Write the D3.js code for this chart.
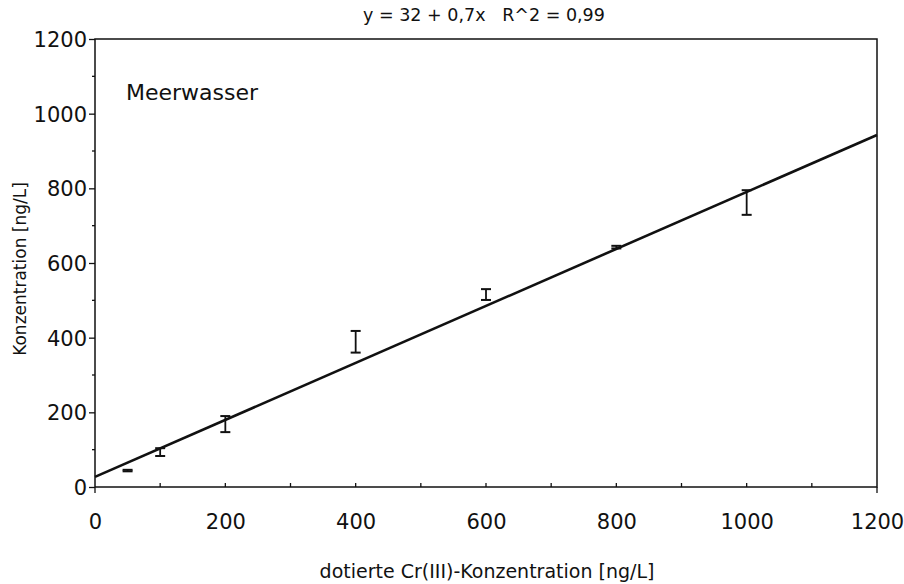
<!DOCTYPE html>
<html><head><meta charset="utf-8">
<script src="https://cdn.jsdelivr.net/npm/d3@7"></script>
<style>body{margin:0;background:#fff}svg{display:block}text{font-family:"DejaVu Sans",sans-serif;fill:#111}</style>
</head><body><svg id="c" width="904" height="584"></svg>
<script>
const doses = [50, 100, 200, 400, 600, 800, 1000];
const lowValues = [42, 83, 147, 360, 501, 639, 729];
const highValues = [46, 104, 190, 418, 530, 646, 795];
const fitLine = [[0, 27], [1200, 943]];
const xTicks = [0, 200, 400, 600, 800, 1000, 1200];
const yTicks = [0, 200, 400, 600, 800, 1000, 1200];
const minorTicks = [100, 300, 500, 700, 900, 1100];

const svg = d3.select("#c");
const m = {l: 95, r: 877, t: 39, b: 487};
const x = d3.scaleLinear().domain([0, 1200]).range([m.l, m.r]);
const y = d3.scaleLinear().domain([0, 1200]).range([m.b, m.t]);
const stroke = "#111";

// frame
svg.append("rect").attr("x", m.l).attr("y", m.t).attr("width", m.r - m.l).attr("height", m.b - m.t)
  .attr("fill", "none").attr("stroke", stroke).attr("stroke-width", 1.5);

// y axis
const ya = svg.append("g").attr("transform", `translate(${m.l},0)`)
  .call(d3.axisLeft(y).tickValues(yTicks).tickSize(6).tickPadding(2).tickFormat(d3.format("d")));
ya.select(".domain").remove();
ya.selectAll("line").attr("stroke", stroke).attr("stroke-width", 1.3);
ya.selectAll("text").attr("font-size", 21).attr("fill", "#111").attr("dy", "0.35em");
svg.append("g").selectAll("line").data(minorTicks).join("line")
  .attr("x1", m.l - 3).attr("x2", m.l).attr("y1", d => y(d)).attr("y2", d => y(d))
  .attr("stroke", stroke).attr("stroke-width", 1.3);

// x axis
const xa = svg.append("g").attr("transform", `translate(0,${m.b})`)
  .call(d3.axisBottom(x).tickValues(xTicks).tickSize(0).tickPadding(27).tickFormat(d3.format("d")));
xa.select(".domain").remove();
xa.selectAll("text").attr("font-size", 21).attr("fill", "#111");
svg.append("g").selectAll("line").data(minorTicks.concat(xTicks.slice(1, -1))).join("line")
  .attr("x1", d => x(d)).attr("x2", d => x(d)).attr("y1", m.b).attr("y2", m.b - 4)
  .attr("stroke", stroke).attr("stroke-width", 1.3);
svg.append("line").attr("x1", m.l).attr("x2", m.l).attr("y1", m.b).attr("y2", m.b + 6).attr("stroke", stroke).attr("stroke-width", 1.3);
svg.append("line").attr("x1", m.r).attr("x2", m.r).attr("y1", m.b).attr("y2", m.b + 6).attr("stroke", stroke).attr("stroke-width", 1.3);

// fit line
svg.append("path").datum(fitLine)
  .attr("d", d3.line().x(d => x(d[0])).y(d => y(d[1])))
  .attr("fill", "none").attr("stroke", stroke).attr("stroke-width", 2.6);

// error bars
const eb = svg.append("g").selectAll("g").data(doses.map((d, i) => ({d, lo: lowValues[i], hi: highValues[i]}))).join("g");
eb.append("line").attr("x1", d => x(d.d)).attr("x2", d => x(d.d)).attr("y1", d => y(d.lo)).attr("y2", d => y(d.hi))
  .attr("stroke", stroke).attr("stroke-width", 1.8);
eb.append("line").attr("x1", d => x(d.d) - 5).attr("x2", d => x(d.d) + 5).attr("y1", d => y(d.lo)).attr("y2", d => y(d.lo))
  .attr("stroke", stroke).attr("stroke-width", 2);
eb.append("line").attr("x1", d => x(d.d) - 5).attr("x2", d => x(d.d) + 5).attr("y1", d => y(d.hi)).attr("y2", d => y(d.hi))
  .attr("stroke", stroke).attr("stroke-width", 2);

// texts
svg.append("text").attr("x", 484).attr("y", 21).attr("text-anchor", "middle").attr("font-size", 17.5)
  .attr("xml:space", "preserve").text("y = 32 + 0,7x   R^2 = 0,99");
svg.append("text").attr("x", 126).attr("y", 100).attr("font-size", 22).text("Meerwasser");
svg.append("text").attr("x", 487).attr("y", 578).attr("text-anchor", "middle").attr("font-size", 19)
  .text("dotierte Cr(III)-Konzentration [ng/L]");
svg.append("text").attr("transform", "translate(26,269) rotate(-90)").attr("text-anchor", "middle").attr("font-size", 17)
  .text("Konzentration [ng/L]");
</script></body></html>
